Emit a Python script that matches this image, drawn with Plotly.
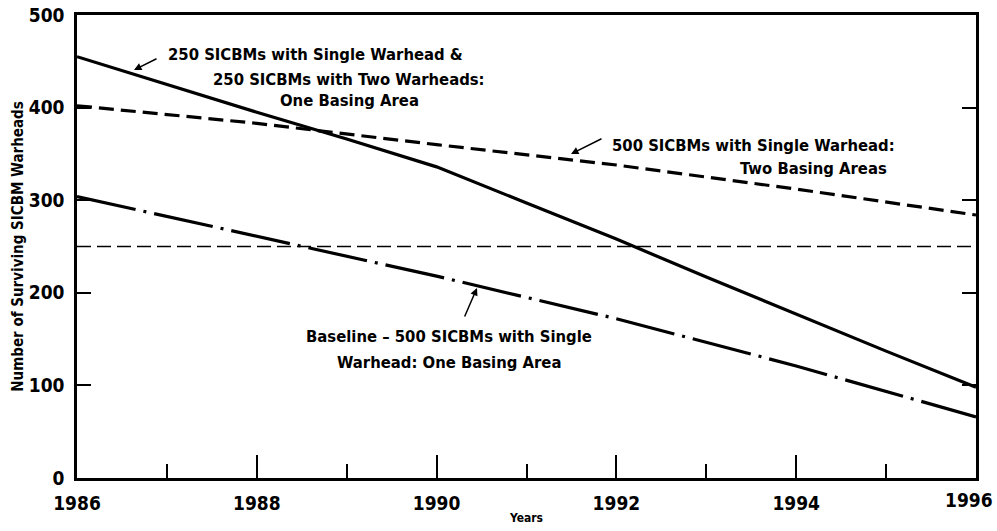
import plotly.graph_objects as go

years_mixed = [1986, 1987, 1988, 1989, 1990, 1991, 1992, 1993, 1994, 1995, 1996]
mixed_one_area = [455, 425, 395, 366, 336, 297, 258, 217, 177, 137, 98]

years_two = [1986, 1988, 1990, 1992, 1994, 1996]
single_two_areas = [402, 383, 360, 338, 312, 284]

years_base = [1986, 1988, 1990, 1992, 1994, 1996]
baseline_one_area = [304, 261, 218, 172, 121, 66]

ref_years = [1986, 1996]
ref_level = [250, 250]

major_years = [1986, 1988, 1990, 1992, 1994, 1996]
major_labels = ["1986", "1988", "1990", "1992", "1994", "1996"]
minor_years = [1987, 1989, 1991, 1993, 1995]
y_ticks = [0, 100, 200, 300, 400, 500]

FONT = "Liberation Sans Narrow, DejaVu Sans Condensed, Arial Narrow, sans-serif"

fig = go.Figure()
fig.add_trace(go.Scatter(x=ref_years, y=ref_level, mode="lines",
                         line=dict(color="black", width=1.5, dash="14px,6px"), hoverinfo="skip"))
fig.add_trace(go.Scatter(x=years_two, y=single_two_areas, mode="lines",
                         line=dict(color="black", width=3.2, dash="15px,7px")))
fig.add_trace(go.Scatter(x=years_base, y=baseline_one_area, mode="lines",
                         line=dict(color="black", width=3.2, dash="60px,8px,3px,8px")))
fig.add_trace(go.Scatter(x=years_mixed, y=mixed_one_area, mode="lines",
                         line=dict(color="black", width=3.2)))

txt = dict(family=FONT, size=16.5, color="black", weight="bold")

L, R, T, B = 77, 976, 15, 478
def px(x): return (x - L) / (R - L)
def py(y): return (B - y) / (B - T)

def ann(x, y, text, anchor="center"):
    fig.add_annotation(x=px(x), y=py(y), xref="paper", yref="paper", text=text,
                       showarrow=False, font=txt, xanchor=anchor, yanchor="middle")

ann(166, 55, "250 SICBMs with Single Warhead &", "left")
ann(349, 79, "250 SICBMs with Two Warheads:")
ann(349, 101, "One Basing Area")
ann(610, 145, "500 SICBMs with Single Warhead:", "left")
ann(889, 169, "Two Basing Areas", "right")
ann(449, 336, "Baseline \u2013 500 SICBMs with Single")
ann(449, 362, "Warhead: One Basing Area")

def arrow(x0, y0, x1, y1):
    fig.add_annotation(x=px(x1), y=py(y1), ax=x0 - x1, ay=y0 - y1, xref="paper", yref="paper",
                       text="", showarrow=True,
                       arrowhead=2, arrowsize=1, arrowwidth=1.5, arrowcolor="black")

arrow(158, 58, 134, 70)
arrow(603, 138, 571, 154)
arrow(464, 318, 477, 288)

# last x tick label placed so that it stays inside the picture
tick_text = major_labels[:-1] + [""]
fig.add_annotation(x=major_years[-1], y=0, xref="x", yref="paper", text=major_labels[-1],
                   showarrow=False, xanchor="right", yanchor="middle", xshift=19, yshift=-22,
                   font=dict(family=FONT, size=19, color="black", weight="bold"))

fig.update_layout(
    width=997, height=531,
    margin=dict(l=L, r=997 - R, t=T, b=531 - B),
    paper_bgcolor="white", plot_bgcolor="white",
    showlegend=False,
    font=dict(family=FONT, color="black"),
    xaxis=dict(range=[1986, 1996], tickmode="array", tickvals=major_years, ticktext=tick_text,
               ticks="inside", ticklen=23, tickwidth=1.5, tickcolor="black",
               minor=dict(tickmode="array", tickvals=minor_years, ticks="inside", ticklen=14, tickwidth=1.5, tickcolor="black"),
               showline=True, linewidth=2.5, linecolor="black", mirror=True, showgrid=False, zeroline=False,
               tickfont=dict(family=FONT, size=19, color="black", weight="bold"),
               ticklabelstandoff=6, ticklabeloverflow="allow",
               automargin=False,
               title=dict(text="Years", font=dict(family=FONT, size=12, weight="bold"), standoff=2)),
    yaxis=dict(range=[0, 500], tickmode="array", tickvals=y_ticks,
               ticks="inside", ticklen=14, tickwidth=1.5, tickcolor="black",
               showline=True, linewidth=2.5, linecolor="black", mirror="ticks", showgrid=False, zeroline=False,
               tickfont=dict(family=FONT, size=19, color="black", weight="bold"),
               ticklabelstandoff=6,
               automargin=False,
               title=dict(text="Number of Surviving SICBM Warheads", font=dict(family=FONT, size=15, weight="bold"), standoff=2)),
)

fig.write_html("out.html", config={"displayModeBar": False},
               post_script="document.body.style.margin='0';document.body.style.overflow='hidden';")
